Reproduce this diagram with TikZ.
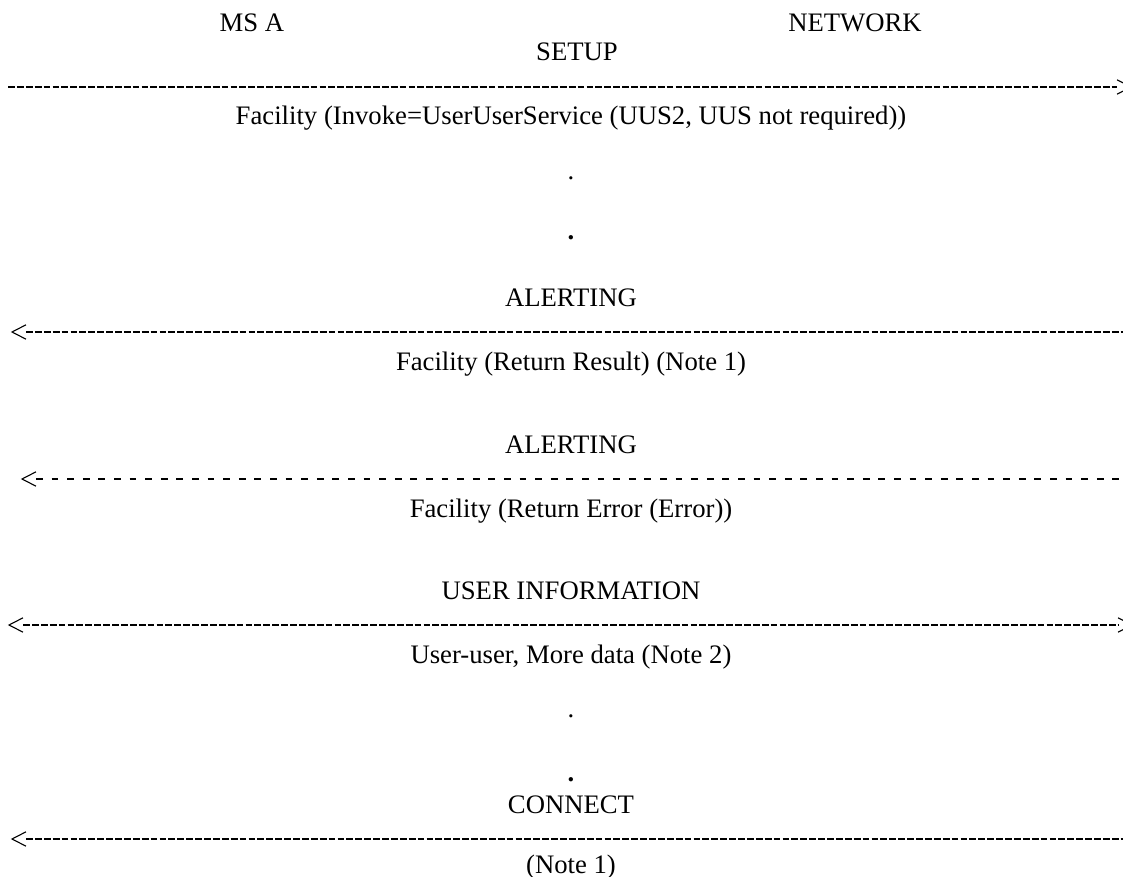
\documentclass[tikz,border=0pt]{standalone}
\usepackage{fontspec}
\setmainfont{Liberation Serif}

\tikzset{
  lbl/.style={font=\fontsize{13.35}{16}\selectfont, inner sep=0pt, anchor=base},
  msgline/.style={line width=0.9pt, dash pattern=on 3.4pt off 1.05pt},
  gapline/.style={line width=0.9pt, dash pattern=on 3.4pt off 4.4pt},
  chevl/.pic={\draw[line width=0.55pt] (7pt,3.6pt) -- (0,0) -- (7pt,-3.6pt);},
  chevr/.pic={\draw[line width=0.55pt] (-7pt,3.6pt) -- (0,0) -- (-7pt,-3.6pt);}
}

\begin{document}
\begin{tikzpicture}[x=0.5pt,y=-0.5pt]
\useasboundingbox (0,0) rectangle (1123,877);

% end points
\node[lbl] (msa) at (252,32) {MS A};
\node[lbl] (net) at (855,32) {NETWORK};

% SETUP
\node[lbl] (setup) at (577,61) {SETUP};
\coordinate (setupL) at (8,87);
\coordinate (setupR) at (1131,87);
\draw[msgline] (setupL) -- ([xshift=-7pt]setupR);
\pic at (setupR) {chevr};
\node[lbl] (setupfac) at (571,125) {Facility (Invoke=UserUserService (UUS2, UUS not required))};
\node[lbl] (dota) at (571,180) {.};
\node[lbl] (dotb) at (571,240) {\textbf{.}};

% ALERTING, result
\node[lbl] (alert) at (571,306) {ALERTING};
\coordinate (alertL) at (12,332);
\coordinate (alertR) at (1123,332);
\pic at (alertL) {chevl};
\draw[msgline] ([xshift=7pt]alertL) -- (alertR);
\node[lbl] (alertfac) at (571,370) {Facility (Return Result) (Note 1)};

% ALERTING, error
\node[lbl] (alerterr) at (571,453) {ALERTING};
\coordinate (alerterrL) at (22,479);
\coordinate (alerterrR) at (1121,479);
\pic at (alerterrL) {chevl};
\draw[gapline] ([xshift=7pt]alerterrL) -- (alerterrR);
\node[lbl] (alerterrfac) at (571,517) {Facility (Return Error (Error))};

% USER INFORMATION
\node[lbl] (uinfo) at (571,599) {USER INFORMATION};
\coordinate (uinfoL) at (9,625);
\coordinate (uinfoR) at (1132,625);
\pic at (uinfoL) {chevl};
\pic at (uinfoR) {chevr};
\draw[msgline] ([xshift=7pt]uinfoL) -- ([xshift=-7pt]uinfoR);
\node[lbl] (uinfotxt) at (571,663) {User-user, More data (Note 2)};
\node[lbl] (dotc) at (571,717) {.};
\node[lbl] (dotd) at (571,781) {\textbf{.}};

% CONNECT
\node[lbl] (conn) at (571,813) {CONNECT};
\coordinate (connL) at (12,839);
\coordinate (connR) at (1123,839);
\pic at (connL) {chevl};
\draw[msgline] ([xshift=7pt]connL) -- (connR);
\node[lbl] (conntxt) at (571,873) {(Note 1)};
\end{tikzpicture}
\end{document}
